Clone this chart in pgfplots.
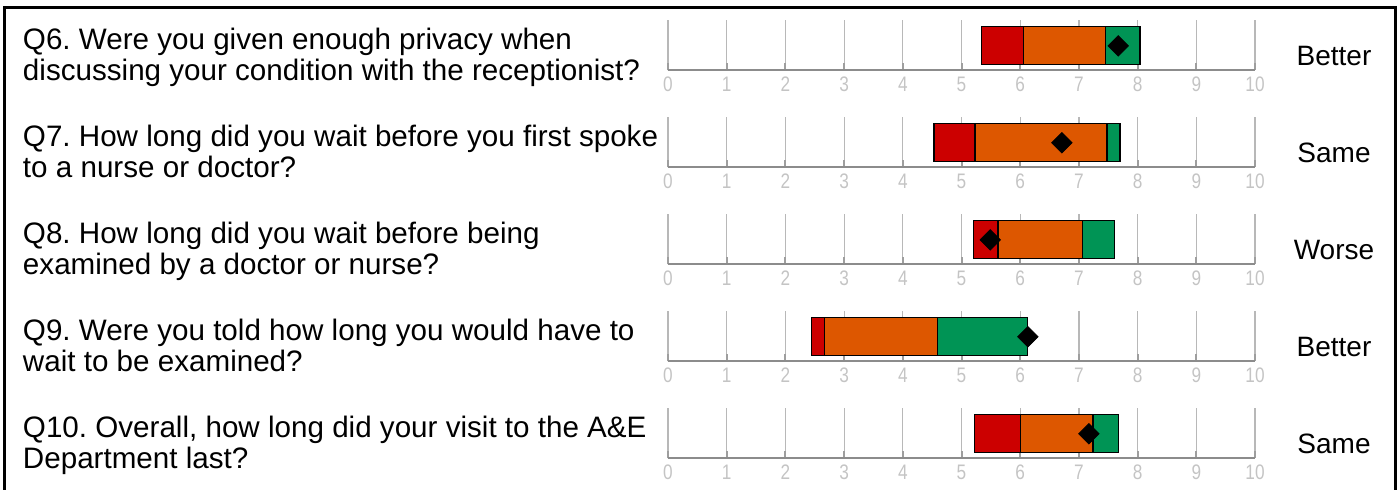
\documentclass[border=0pt]{standalone}
\usepackage{fontspec}
\setmainfont{Liberation Sans}
\newfontfamily\tickfont[FakeStretch=0.82]{Liberation Sans}
\usepackage{pgfplots}
\pgfplotsset{compat=1.18}
\frenchspacing

\definecolor{cred}{RGB}{204,0,0}
\definecolor{corange}{RGB}{221,87,0}
\definecolor{cgreen}{RGB}{0,148,85}
\definecolor{tickgray}{RGB}{196,196,196}

\pgfplotsset{
  row/.style={
    scale only axis, width=293.5pt, height=25pt,
    xmin=0, xmax=10, ymin=0, ymax=1,
    anchor=south west, clip=false,
    axis x line=bottom, axis y line=none,
    x axis line style={-, draw=black!45, line width=1pt},
    xtick={0,1,...,10}, ytick=\empty,
    xmajorgrids=true,
    major x grid style={draw=black!28, line width=0.6pt},
    tick align=inside, major tick length=3.5pt,
    xtick style={draw=black!38, line width=1pt},
    /pgf/number format/assume math mode=true,
    xticklabel style={font=\tickfont\fontsize{10.5}{11}\selectfont, text=tickgray,
      inner sep=0pt, anchor=north, yshift=-3pt},
  },
  seg/.style={draw=black, line width=0.6pt, fill=#1},
  avg/.style={only marks, mark=square*, mark size=3.6pt,
    mark options={rotate=45, draw=black, fill=black}},
}

\begin{document}
\begin{tikzpicture}
\useasboundingbox (0,0) rectangle (699pt,-245pt);
\draw[line width=1.5pt] (2pt,-245pt) -- (2pt,-3.65pt) -- (697.5pt,-3.65pt) -- (697.5pt,-245pt);

% Q6
\begin{axis}[row, at={(334pt,-35.15pt)}]
\addplot[seg=cred] coordinates {(5.34,0.12) (6.05,0.12) (6.05,0.877) (5.34,0.877)} -- cycle;
\addplot[seg=corange] coordinates {(6.05,0.12) (7.45,0.12) (7.45,0.877) (6.05,0.877)} -- cycle;
\addplot[seg=cgreen] coordinates {(7.45,0.12) (8.04,0.12) (8.04,0.877) (7.45,0.877)} -- cycle;
\addplot[avg] coordinates {(7.67,0.49)};
\end{axis}

% Q7
\begin{axis}[row, at={(334pt,-83.65pt)}]
\addplot[seg=cred] coordinates {(4.53,0.12) (5.23,0.12) (5.23,0.877) (4.53,0.877)} -- cycle;
\addplot[seg=corange] coordinates {(5.23,0.12) (7.48,0.12) (7.48,0.877) (5.23,0.877)} -- cycle;
\addplot[seg=cgreen] coordinates {(7.48,0.12) (7.70,0.12) (7.70,0.877) (7.48,0.877)} -- cycle;
\addplot[avg] coordinates {(6.71,0.49)};
\end{axis}

% Q8
\begin{axis}[row, at={(334pt,-132.15pt)}]
\addplot[seg=cred] coordinates {(5.20,0.12) (5.62,0.12) (5.62,0.877) (5.20,0.877)} -- cycle;
\addplot[seg=corange] coordinates {(5.62,0.12) (7.06,0.12) (7.06,0.877) (5.62,0.877)} -- cycle;
\addplot[seg=cgreen] coordinates {(7.06,0.12) (7.60,0.12) (7.60,0.877) (7.06,0.877)} -- cycle;
\addplot[avg] coordinates {(5.49,0.49)};
\end{axis}

% Q9
\begin{axis}[row, at={(334pt,-180.65pt)}]
\addplot[seg=cred] coordinates {(2.45,0.12) (2.66,0.12) (2.66,0.877) (2.45,0.877)} -- cycle;
\addplot[seg=corange] coordinates {(2.66,0.12) (4.59,0.12) (4.59,0.877) (2.66,0.877)} -- cycle;
\addplot[seg=cgreen] coordinates {(4.59,0.12) (6.13,0.12) (6.13,0.877) (4.59,0.877)} -- cycle;
\addplot[avg] coordinates {(6.13,0.49)};
\end{axis}

% Q10
\begin{axis}[row, at={(334pt,-229.15pt)}]
\addplot[seg=cred] coordinates {(5.22,0.12) (6.00,0.12) (6.00,0.877) (5.22,0.877)} -- cycle;
\addplot[seg=corange] coordinates {(6.00,0.12) (7.24,0.12) (7.24,0.877) (6.00,0.877)} -- cycle;
\addplot[seg=cgreen] coordinates {(7.24,0.12) (7.67,0.12) (7.67,0.877) (7.24,0.877)} -- cycle;
\addplot[avg] coordinates {(7.17,0.49)};
\end{axis}

% question texts
\begin{scope}[every node/.style={anchor=base west, inner sep=0pt, font=\fontsize{14.8}{15}\selectfont}]
\node at (11.3pt,-24.9pt) {Q6. Were you given enough privacy when};
\node at (11.3pt,-40.1pt) {discussing your condition with the receptionist?};
\node at (11.3pt,-73.4pt) {Q7. How long did you wait before you first spoke};
\node at (11.3pt,-88.6pt) {to a nurse or doctor?};
\node at (11.3pt,-121.9pt) {Q8. How long did you wait before being};
\node at (11.3pt,-137.1pt) {examined by a doctor or nurse?};
\node at (11.3pt,-170.4pt) {Q9. Were you told how long you would have to};
\node at (11.3pt,-185.6pt) {wait to be examined?};
\node at (11.3pt,-218.9pt) {Q10. Overall, how long did your visit to the A\&E};
\node at (11.3pt,-234.1pt) {Department last?};
\end{scope}

% comparison labels
\begin{scope}[every node/.style={anchor=base, inner sep=0pt, font=\fontsize{14}{15}\selectfont}]
\node at (667pt,-32.85pt) {Better};
\node at (667pt,-81.35pt) {Same};
\node at (667pt,-129.85pt) {Worse};
\node at (667pt,-178.35pt) {Better};
\node at (667pt,-226.85pt) {Same};
\end{scope}
\end{tikzpicture}
\end{document}
